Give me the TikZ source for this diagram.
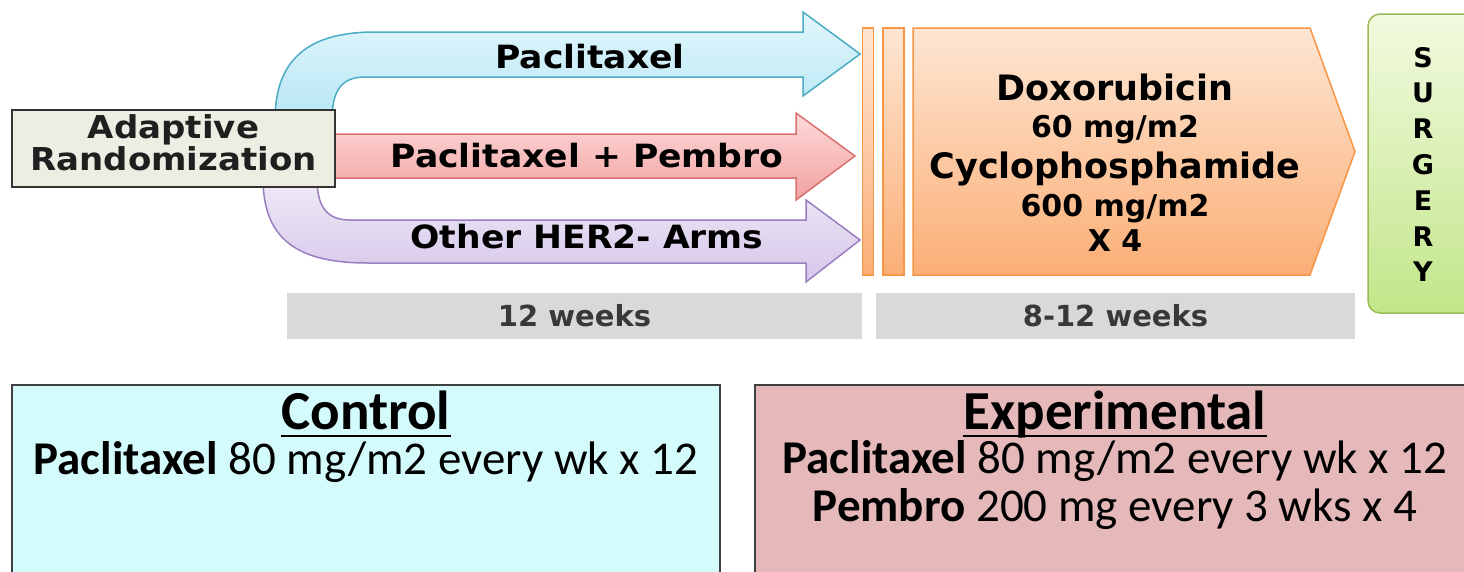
\documentclass[tikz,border=0pt]{standalone}
\usepackage{fontspec}
\setmainfont{Carlito}
\newfontfamily\dvs{DejaVu Sans}[FakeStretch=1.08]
\newfontfamily\dvn{DejaVu Sans}
\definecolor{cyanedge}{HTML}{4BACC6}
\definecolor{cyantop}{HTML}{E2F6FC}
\definecolor{cyanbot}{HTML}{B6E6F4}
\definecolor{pinkedge}{HTML}{D9716E}
\definecolor{pinktop}{HTML}{FCDADA}
\definecolor{pinkbot}{HTML}{F3A1A0}
\definecolor{purpedge}{HTML}{9A7DC0}
\definecolor{purptop}{HTML}{F0EAF7}
\definecolor{purpbot}{HTML}{D5C7EA}
\definecolor{orgedge}{HTML}{F79646}
\definecolor{orgtop}{HTML}{FDE6D3}
\definecolor{orgbot}{HTML}{FBAE76}
\definecolor{grnedge}{HTML}{9BBB59}
\definecolor{grntop}{HTML}{F2FADF}
\definecolor{grnbot}{HTML}{C2E68A}
\definecolor{randfill}{HTML}{EEEDE3}
\definecolor{weekfill}{HTML}{D9D9D9}
\definecolor{ctrlfill}{HTML}{D4FBFB}
\definecolor{expfill}{HTML}{E5B8B9}
\tikzset{
  cyanarrow/.style={draw=cyanedge, line width=1.5pt, top color=cyantop, bottom color=cyanbot},
  pinkarrow/.style={draw=pinkedge, line width=1.5pt, top color=pinktop, bottom color=pinkbot},
  purparrow/.style={draw=purpedge, line width=1.5pt, top color=purptop, bottom color=purpbot},
  orgshape/.style={draw=orgedge, line width=1.5pt, top color=orgtop, bottom color=orgbot},
  lbl/.style={font=\dvs\bfseries\fontsize{32}{36}\selectfont, anchor=base, inner sep=0pt},
  drug/.style={font=\dvn\bfseries\fontsize{35}{40}\selectfont, anchor=base, inner sep=0pt},
  dose/.style={font=\dvn\bfseries\fontsize{30}{34}\selectfont, anchor=base, inner sep=0pt},
  surg/.style={font=\dvn\bfseries\fontsize{27}{30}\selectfont, anchor=base, inner sep=0pt},
  weekbar/.style={fill=weekfill, draw=none},
  weeklbl/.style={font=\dvn\bfseries\fontsize{29}{32}\selectfont, text=black!78, anchor=base, inner sep=0pt},
  armbox/.style={draw=black!75, line width=1.5pt},
  armtitle/.style={font=\bfseries\fontsize{55}{60}\selectfont, anchor=base, inner sep=0pt},
  uline/.style={line width=2.5pt},
  armtext/.style={font=\fontsize{47}{52}\selectfont, anchor=base, inner sep=0pt},
}
\begin{document}
\begin{tikzpicture}[x=1pt,y=-1pt,line join=miter]
\useasboundingbox (0,0) rectangle (1464,571);
\fill[white] (0,0) rectangle (1464,571);

% bent and straight arrows
\draw[cyanarrow] (275,120) .. controls (275,58) and (310,32) .. (375,32) -- (803,32) -- (803,12) -- (860,54) -- (803,96) -- (803,77) -- (365,77) .. controls (342,77) and (332,90) .. (332,120) -- cycle;
\draw[pinkarrow] (330,134) -- (796,134) -- (796,113) -- (855,156) -- (796,200) -- (796,178) -- (330,178) -- cycle;
\draw[purparrow] (263,178) .. controls (263,240) and (298,263) .. (368,263) -- (806,263) -- (806,282) -- (860,240) -- (806,200) -- (806,220) -- (350,220) .. controls (327,220) and (317,207) .. (317,178) -- cycle;

% randomization box
\node[draw=black!80, line width=1.5pt, fill=randfill, minimum width=323pt, minimum height=77pt, inner sep=0pt] (rand) at (173.5,148.5) {};
\node[lbl, font=\dvs\bfseries\fontsize{31.5}{34}\selectfont, text=black!88] (rand1) at (173.5,138) {Adaptive};
\node[lbl, font=\dvs\bfseries\fontsize{31.5}{34}\selectfont, text=black!88] (rand2) at (173.5,170) {Randomization};

% arrow labels
\node[lbl] (a1) at (590,68) {Paclitaxel};
\node[lbl] (a2) at (587,167) {Paclitaxel + Pembro};
\node[lbl] (a3) at (587,248) {Other HER2- Arms};

% orange bars and pentagon
\draw[orgshape] (862.5,28) rectangle (873.5,275);
\draw[orgshape] (883,28) rectangle (904,275);
\draw[orgshape] (913,28) -- (1310,28) -- (1355,151.5) -- (1310,275) -- (913,275) -- cycle;
\node[drug] (d1) at (1115,100) {Doxorubicin};
\node[dose] (d2) at (1115,137) {60 mg/m2};
\node[drug] (d3) at (1115,178) {Cyclophosphamide};
\node[dose] (d4) at (1115,216) {600 mg/m2};
\node[dose] (d5) at (1115,251) {X 4};

% surgery
\draw[draw=grnedge, line width=1.5pt, top color=grntop, bottom color=grnbot, rounded corners=12pt] (1368,14) rectangle (1490,313);
\foreach \ch [count=\i from 0] in {S,U,R,G,E,R,Y} {
  \node[surg] (s\i) at (1423,67+35.8*\i) {\ch};
}

% week bars
\fill[weekbar] (287,293) rectangle (862,339);
\node[weeklbl] (w1) at (574.5,326) {12 weeks};
\fill[weekbar] (876,293) rectangle (1355,339);
\node[weeklbl] (w2) at (1115.5,326) {8-12 weeks};

% bottom arm boxes
\draw[armbox, fill=ctrlfill] (12,385) rectangle (720,590);
\node[armtitle] (ct) at (366,429) {Control};
\draw[uline] ([yshift=-7pt]ct.base west) -- ([yshift=-7pt]ct.base east);
\node[armtext] (c1) at (366,474) {\textbf{Paclitaxel} 80 mg/m2 every wk x 12};
\draw[armbox, fill=expfill] (755,385) rectangle (1490,590);
\node[armtitle] (et) at (1115,429) {Experimental};
\draw[uline] ([yshift=-7pt]et.base west) -- ([yshift=-7pt]et.base east);
\node[armtext] (e1) at (1115,473) {\textbf{Paclitaxel} 80 mg/m2 every wk x 12};
\node[armtext] (e2) at (1115,521) {\textbf{Pembro} 200 mg every 3 wks x 4};
\end{tikzpicture}
\end{document}
